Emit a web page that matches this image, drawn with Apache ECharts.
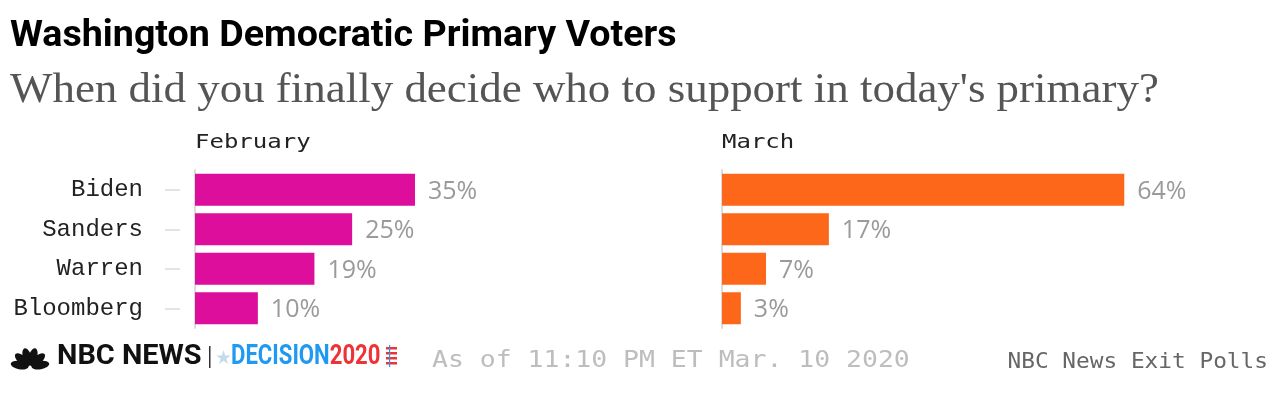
<!DOCTYPE html>
<html><head><meta charset="utf-8">
<script src="https://cdn.jsdelivr.net/npm/echarts@6/dist/echarts.min.js"></script>
<style>html,body{margin:0;padding:0;background:#fff}#c{width:1280px;height:394px}</style>
</head><body><div id="c"></div>
<script>
const candidates = ['Biden', 'Sanders', 'Warren', 'Bloomberg'];
const febValues = [35, 25, 19, 10];
const marValues = [64, 17, 7, 3];
const panelTitles = ['February', 'March'];
const titleText = 'Washington Democratic Primary Voters';
const subtitleText = "When did you finally decide who to support in today's primary?";
const asOfText = 'As of 11:10 PM ET Mar. 10 2020';
const sourceText = 'NBC News Exit Polls';

const MONO = '"Liberation Mono", "DejaVu Sans Mono", monospace';
const chart = echarts.init(document.getElementById('c'), null, {renderer: 'canvas'});

function lineAxis(grid) {
  return {type: 'category', gridIndex: grid, data: candidates, inverse: true, position: 'left',
    axisLine: {show: true, lineStyle: {color: '#dcdcdc', width: 2}},
    axisTick: {show: false}, axisLabel: {show: false}, splitLine: {show: false}};
}
const feathers = [-80, -48, -16, 16, 48, 80].map(a => {
  const r = a * Math.PI / 180;
  return {type: 'ellipse', shape: {cx: 0, cy: -10.5, rx: 4.2, ry: 9}, x: 30, y: 367,
    rotation: -r, style: {fill: '#111'}};
});
const valueLabel = {show: true, position: 'right', distance: 13, offset: [0, 2], formatter: '{c}%',
  fontFamily: '"Open Sans", sans-serif', fontSize: 25, color: '#9a9a9a'};

chart.setOption({
  animation: false,
  grid: [
    {left: 195, top: 170, width: 440, height: 158},
    {left: 722, top: 170, width: 440, height: 158}
  ],
  xAxis: [
    {type: 'value', gridIndex: 0, min: 0, max: 70, show: false},
    {type: 'value', gridIndex: 1, min: 0, max: 70, show: false}
  ],
  yAxis: [
    lineAxis(0),
    {type: 'category', gridIndex: 0, data: candidates, inverse: true, offset: 15, position: 'left',
      axisLine: {show: false},
      axisTick: {show: true, alignWithLabel: true, length: 15, lineStyle: {color: '#e4e4e4', width: 2}},
      axisLabel: {margin: 37, fontFamily: MONO, fontSize: 24, color: '#222'}},
    lineAxis(1)
  ],
  series: [
    {type: 'bar', xAxisIndex: 0, yAxisIndex: 0, data: febValues, barWidth: 32,
      itemStyle: {color: '#dc0e9b'}, label: valueLabel},
    {type: 'bar', xAxisIndex: 1, yAxisIndex: 2, data: marValues, barWidth: 32,
      itemStyle: {color: '#fc6719'}, label: valueLabel}
  ],
  graphic: [
    {type: 'text', x: 10, y: 37, scaleX: 1.045, style: {text: titleText, textVerticalAlign: 'middle',
      font: 'bold 36px "Roboto", sans-serif', fill: '#000'}},
    {type: 'text', x: 10, y: 91, scaleX: 1.07, style: {text: subtitleText, textVerticalAlign: 'middle',
      font: '42px "Liberation Serif", serif', fill: '#555'}},
    {type: 'text', x: 195, y: 143, scaleX: 1.2, style: {text: panelTitles[0], textVerticalAlign: 'middle',
      font: '20px "DejaVu Sans Mono", monospace', fill: '#222'}},
    {type: 'text', x: 722, y: 143, scaleX: 1.2, style: {text: panelTitles[1], textVerticalAlign: 'middle',
      font: '20px "DejaVu Sans Mono", monospace', fill: '#222'}},
    ...feathers,
    {type: 'text', x: 57, y: 357, scaleX: 1.07, style: {text: 'NBC NEWS', textVerticalAlign: 'middle',
      font: 'bold 27px "Roboto", sans-serif', fill: '#111'}},
    {type: 'rect', shape: {x: 209, y: 346, width: 1.5, height: 22}, style: {fill: '#333'}},
    {type: 'text', x: 215, y: 359, style: {text: '★', textVerticalAlign: 'middle',
      font: '19px "DejaVu Sans"', fill: '#c4dbec'}},
    {type: 'text', x: 231, y: 357, scaleX: 0.79, style: {
      text: '{a|DECISION}{b|2020}', textVerticalAlign: 'middle',
      rich: {
        a: {font: 'bold 28px "Roboto", sans-serif', fill: '#1f9af0', color: '#1f9af0'},
        b: {font: 'bold 28px "Roboto", sans-serif', fill: '#ee3338', color: '#ee3338'}
      }}},
    {type: 'rect', shape: {x: 386, y: 347, width: 11, height: 2.5}, style: {fill: '#ee3338'}},
    {type: 'rect', shape: {x: 386, y: 352, width: 11, height: 2.5}, style: {fill: '#ee3338'}},
    {type: 'rect', shape: {x: 386, y: 357, width: 11, height: 2.5}, style: {fill: '#ee3338'}},
    {type: 'rect', shape: {x: 386, y: 362, width: 11, height: 2.5}, style: {fill: '#ee3338'}},
    {type: 'rect', shape: {x: 389, y: 345, width: 1.2, height: 22}, style: {fill: '#1f9af0'}},
    {type: 'text', x: 432, y: 361, scaleX: 1.15, style: {text: asOfText, textVerticalAlign: 'middle',
      font: '23px "DejaVu Sans Mono", monospace', fill: '#bdbdbd'}},
    {type: 'text', x: 1268, y: 362, scaleX: 1.035, style: {text: sourceText, textAlign: 'right', textVerticalAlign: 'middle',
      font: '22px "DejaVu Sans Mono", monospace', fill: '#666'}}
  ]
});
</script></body></html>
